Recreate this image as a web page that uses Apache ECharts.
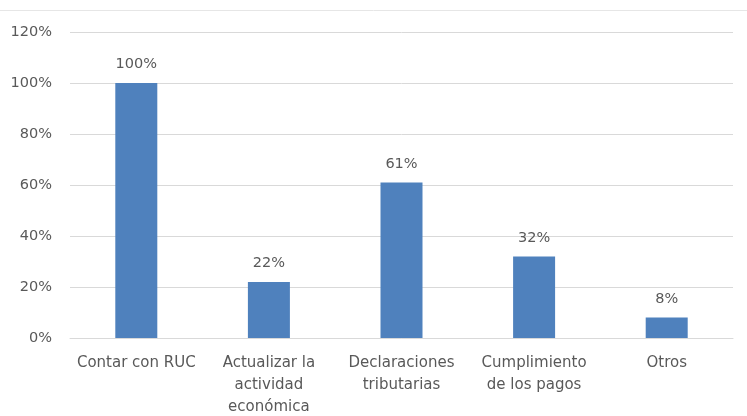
<!DOCTYPE html>
<html>
<head>
<meta charset="utf-8">
<script src="https://cdn.jsdelivr.net/npm/echarts@6/dist/echarts.min.js"></script>
<style>
  html, body { margin: 0; padding: 0; background: #fff; }
  #main { width: 747px; height: 416px; }
</style>
</head>
<body>
<div id="main"></div>
<script>
var categories = ['Contar con RUC', 'Actualizar la\nactividad\neconómica', 'Declaraciones\ntributarias', 'Cumplimiento\nde los pagos', 'Otros'];
var values = [100, 22, 61, 32, 8];

var chartDom = document.getElementById('main');
var myChart = echarts.init(chartDom);
var textColor = '#595959';
var fontFamily = '"DejaVu Sans", sans-serif';

var option = {
    animation: false,
    textStyle: { fontFamily: fontFamily },
    grid: {
        top: 32,
        left: 70,
        right: 14,
        bottom: 78,
        outerBoundsMode: 'none' // keep grid fixed, labels may touch the edge
    },
    graphic: [{
        type: 'line',
        shape: { x1: 0, y1: 10.5, x2: 747, y2: 10.5 },
        style: { stroke: '#e6e6e6', lineWidth: 1 }
    }],
    xAxis: {
        type: 'category',
        data: categories,
        axisTick: { show: false },
        axisLine: { lineStyle: { color: '#d9d9d9' } },
        axisLabel: {
            color: textColor,
            fontSize: 15,
            lineHeight: 22,
            margin: 14,
            interval: 0
        }
    },
    yAxis: {
        type: 'value',
        min: 0,
        max: 120,
        interval: 20,
        axisLine: { show: false },
        axisTick: { show: false },
        axisLabel: {
            color: textColor,
            fontSize: 14.5,
            margin: 18,
            formatter: '{value}%'
        },
        splitLine: { lineStyle: { color: '#d9d9d9' } }
    },
    series: [{
        type: 'bar',
        data: values,
        barWidth: 42,
        itemStyle: { color: '#4f81bd' },
        label: {
            show: true,
            position: 'top',
            distance: 11,
            color: textColor,
            fontSize: 14.5,
            formatter: '{c}%'
        }
    }]
};

option && myChart.setOption(option);
</script>
</body>
</html>
